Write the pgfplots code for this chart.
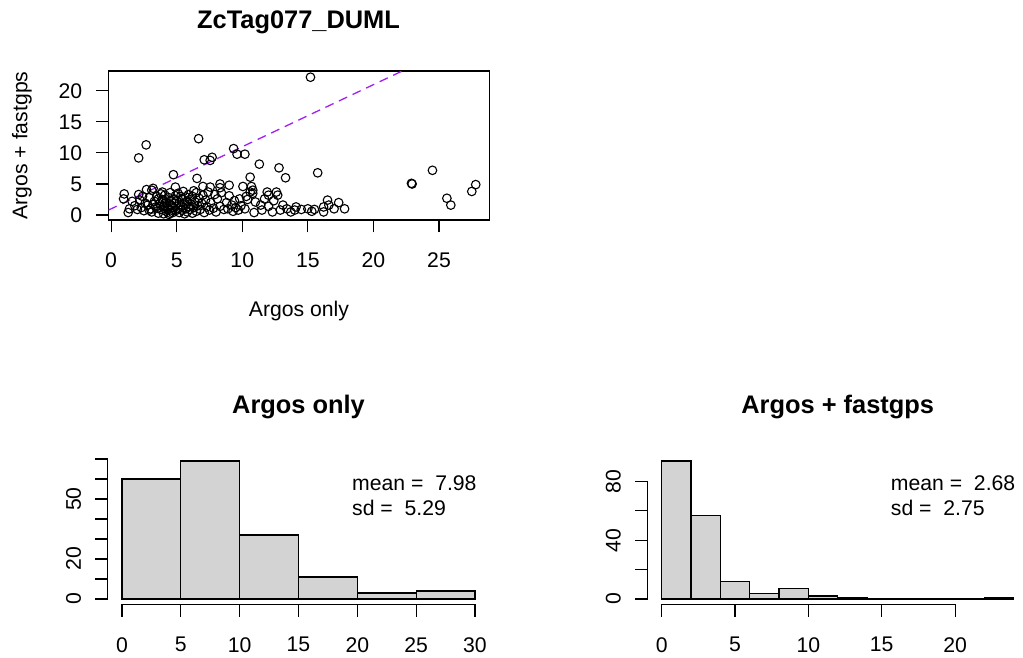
\documentclass[border=0pt]{standalone}
\usepackage{pgfplots}
\pgfplotsset{compat=1.18}
\usepackage{fontspec}
\setmainfont{Liberation Sans}
\definecolor{rpurple}{HTML}{A020F0}
\definecolor{lgray}{HTML}{D3D3D3}
\newcommand{\rfont}{\fontsize{21.2}{25}\selectfont}
\begin{document}
\rfont
\begin{tikzpicture}[x=1pt,y=1pt]
\fill[white] (0pt,0pt) rectangle (1023pt,658pt);
\path[use as bounding box] (0pt,0pt) rectangle (1023pt,658pt);
\pgfplotsset{
  rbase/.style={
    scale only axis,
    tick align=outside, major tick length=12.5pt,
    every tick/.style={black, line width=1.1pt},
    tick pos=left,
    ticklabel style={font=\rfont},
    /pgf/number format/assume math mode=true,
    axis line style={line width=1.1pt},
    xticklabel shift={13pt},
  }
}
% ---------- scatter ----------
\begin{axis}[rbase,
  anchor=south west, at={(108.5pt,438pt)}, width=381pt, height=149pt,
  xmin=-0.2, xmax=28.85, ymin=-0.8, ymax=23.2,
  xtick={0,5,...,25}, ytick={0,5,...,20},
  yticklabel shift={6.5pt},
  clip=true]
\addplot[only marks, mark=o, mark size=4.3pt, mark options={line width=1.1pt, black}] table {
x y
2.1 9.2
2.67 11.3
4.75 6.5
1.0 3.4
0.95 2.6
1.4 1.0
1.3 0.4
2.1 3.3
2.7 4.1
3.1 4.0
3.9 3.7
2.2 2.4
2.6 1.9
4.9 4.5
3.2 4.3
1.8 1.5
2.0 0.9
2.3 1.2
2.5 0.7
2.8 1.6
2.9 2.8
3.0 1.0
3.1 0.5
3.3 2.2
3.4 1.3
3.5 3.0
3.6 0.3
3.7 1.8
3.8 0.9
3.9 2.5
4.0 0.2
4.0 1.4
4.1 3.2
4.2 0.6
4.2 2.0
4.3 1.1
4.4 2.8
4.4 0.1
4.5 1.7
4.5 3.6
4.6 0.8
4.6 2.3
4.7 1.2
4.7 0.4
4.8 2.6
4.8 1.9
4.9 0.7
4.9 3.1
4.3 0.9
3.6 2.6
2.4 3.0
1.6 2.2
3.2 1.7
4.1 1.6
3.8 3.4
4.5 0.3
2.9 0.8
3.5 1.1
4.0 2.4
4.6 1.5
6.67 12.3
7.1 8.9
7.55 8.8
7.7 9.3
9.34 10.7
9.6 9.8
6.55 5.9
7.0 4.6
7.55 4.5
9.0 4.8
8.3 5.0
8.3 4.4
5.0 2.3
5.1 1.0
5.1 3.5
5.2 0.4
5.2 2.0
5.3 1.5
5.3 3.0
5.4 0.8
5.4 2.6
5.5 1.2
5.5 3.8
5.6 0.2
5.6 1.9
5.7 2.9
5.7 1.0
5.8 0.5
5.8 2.2
5.9 1.4
5.9 3.3
6.0 0.9
6.0 2.5
6.1 1.7
6.2 0.3
6.2 3.0
6.3 1.2
6.4 2.1
6.5 0.6
6.5 3.6
6.6 1.5
6.7 2.7
6.8 0.9
6.9 1.9
7.0 3.2
7.1 0.4
7.2 2.4
7.3 1.3
7.4 3.7
7.5 0.8
7.6 2.0
7.8 1.1
7.9 3.3
8.0 0.5
8.1 2.6
8.3 1.4
8.4 3.6
8.6 0.9
8.8 2.0
8.9 1.0
9.0 3.1
9.2 1.6
9.3 0.6
9.4 2.3
9.5 1.2
9.7 0.8
9.8 2.6
9.9 1.5
6.3 3.9
10.2 9.8
11.3 8.2
10.6 6.1
12.8 7.6
13.3 6.0
10.7 4.6
10.8 4.0
10.05 4.6
10.6 3.7
10.8 3.5
11.9 3.7
12.0 3.2
12.6 3.7
12.7 3.2
11.0 2.1
11.4 1.6
11.5 0.8
12.0 1.4
12.3 0.5
12.9 0.8
13.1 1.6
13.7 0.5
14.0 0.8
14.1 1.3
10.2 1.0
10.4 2.5
10.9 0.4
11.7 2.6
13.4 1.0
14.5 0.9
10.3 3.0
12.4 2.3
15.2 22.2
15.75 6.8
15.0 1.0
15.3 0.6
16.2 1.3
16.2 0.5
16.5 2.4
16.6 1.6
17.0 1.0
17.35 2.0
17.8 1.0
15.5 0.9
22.9 5.1
22.95 5.0
24.5 7.2
25.6 2.7
25.9 1.6
27.5 3.8
27.8 4.9
};
\addplot[rpurple, line width=1.3pt, dash pattern=on 9pt off 6pt] coordinates {(-0.2,0.8) (22.2,23.2)};
\end{axis}
\node[font=\fontsize{25.4}{30}\selectfont\bfseries] at (298.5pt,636pt) {ZcTag077\_DUML};
\node at (299pt,347pt) {Argos only};
\node[rotate=90] at (22pt,512.5pt) {Argos + fastgps};
% ---------- histogram 1 ----------
\begin{axis}[rbase,
  anchor=south west, at={(107.9pt,53.5pt)}, width=381.2pt, height=149pt,
  xmin=-1.2, xmax=31.2, ymin=-2.76, ymax=71.76,
  axis lines*=left, axis line style={draw=none},
  xtick={0,5,...,30}, ytick={0,10,...,70},
  yticklabels={0,,20,,,50,,},
  yticklabel style={rotate=90, anchor=south},
  yticklabel shift={7pt},
  clip=false]
\addplot[ybar interval, fill=lgray, draw=black, line width=1.1pt] coordinates {
(0,60) (5,69) (10,32) (15,11) (20,3) (25,4) (30,4)};
\draw[line width=1.1pt] (axis cs:0,-2.76) -- (axis cs:30,-2.76);
\draw[line width=1.1pt] (axis cs:-1.2,0) -- (axis cs:-1.2,70);
\end{axis}
\node[font=\fontsize{25.4}{30}\selectfont\bfseries] at (298.5pt,251pt) {Argos only};
\node[anchor=base west, inner sep=0pt] at (352pt,167.3pt) {mean =\ \ 7.98};
\node[anchor=base west, inner sep=0pt] at (352pt,142.3pt) {sd =\ \ 5.29};
% ---------- histogram 2 ----------
\begin{axis}[rbase,
  anchor=south west, at={(647.6pt,53.5pt)}, width=380.2pt, height=149pt,
  xmin=-0.96, xmax=24.96, ymin=-3.76, ymax=97.76,
  axis lines*=left, axis line style={draw=none},
  xtick={0,5,...,20}, ytick={0,20,...,80},
  yticklabels={0,,40,,80},
  yticklabel style={rotate=90, anchor=south},
  yticklabel shift={7pt},
  clip=false]
\addplot[ybar interval, fill=lgray, draw=black, line width=1.1pt] coordinates {
(0,94) (2,57) (4,12) (6,4) (8,7) (10,2) (12,1) (14,0) (16,0) (18,0) (20,0) (22,1) (24,1)};
\draw[line width=1.1pt] (axis cs:0,-3.76) -- (axis cs:20,-3.76);
\draw[line width=1.1pt] (axis cs:-0.96,0) -- (axis cs:-0.96,80);
\end{axis}
\node[font=\fontsize{25.4}{30}\selectfont\bfseries] at (837.7pt,251pt) {Argos + fastgps};
\node[anchor=base west, inner sep=0pt] at (890.7pt,167.3pt) {mean =\ \ 2.68};
\node[anchor=base west, inner sep=0pt] at (890.7pt,142.3pt) {sd =\ \ 2.75};
\end{tikzpicture}
\end{document}
